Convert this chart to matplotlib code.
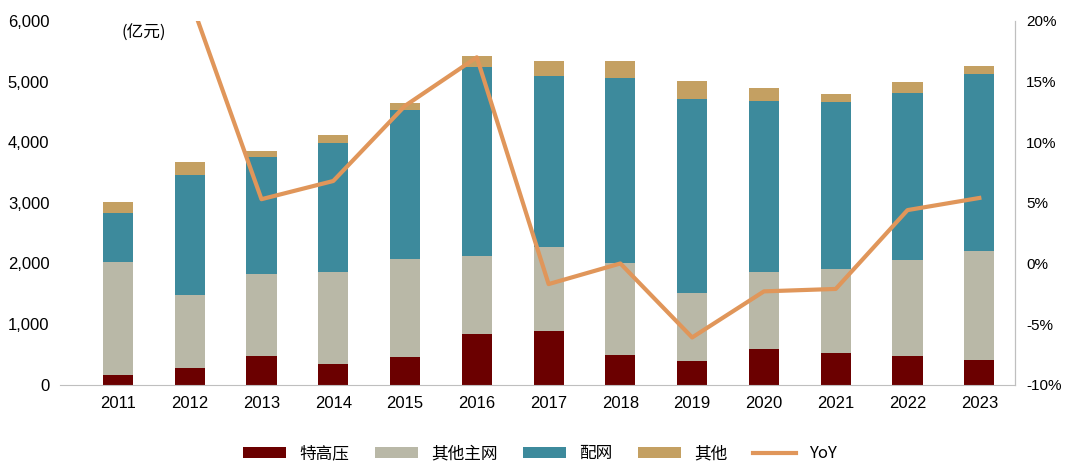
import numpy as np
import matplotlib
matplotlib.use("Agg")
import matplotlib.pyplot as plt

plt.rcParams['font.family'] = ['Noto Sans CJK SC', 'DejaVu Sans']

years = ["2011", "2012", "2013", "2014", "2015", "2016", "2017",
         "2018", "2019", "2020", "2021", "2022", "2023"]
uhv = [165, 280, 478, 346, 461, 840, 890, 494, 395, 593, 527, 478, 412]
main_grid = [1861, 1203, 1351, 1516, 1615, 1285, 1383, 1516, 1121, 1269, 1384, 1581, 1795]
dist_grid = [808, 1977, 1927, 2125, 2454, 3114, 2818, 3048, 3196, 2817, 2751, 2751, 2916]
other = [181, 214, 99, 132, 116, 181, 247, 280, 296, 214, 132, 182, 132]
yoy = [np.nan, 21.9, 5.3, 6.8, 13.0, 17.0, -1.7, 0.0, -6.1, -2.3, -2.1, 4.4, 5.4]

x = np.arange(len(years))
w = 0.42
fig = plt.figure(figsize=(10.8, 4.75), dpi=100)
ax = fig.add_axes([0.056, 0.19, 0.884, 0.766])
b1 = np.array(uhv); b2 = b1 + main_grid; b3 = b2 + dist_grid
ax.bar(x, uhv, w, color="#6B0000", label="特高压")
ax.bar(x, main_grid, w, bottom=b1, color="#B9B8A7", label="其他主网")
ax.bar(x, dist_grid, w, bottom=b2, color="#3D8A9C", label="配网")
ax.bar(x, other, w, bottom=b3, color="#C4A062", label="其他")
ax.set_ylim(0, 6000)
ax.set_xlim(-0.8, 12.5)
ax.set_yticks(range(0, 6001, 1000))
ax.set_yticklabels([f"{v:,}" for v in range(0, 6001, 1000)], fontsize=12, family="Liberation Sans")
ax.set_xticks(x)
ax.set_xticklabels(years, fontsize=12, family="Liberation Sans")
ax.tick_params(length=0, pad=8)
for s in ["top", "left"]:
    ax.spines[s].set_visible(False)
ax.spines["bottom"].set_color("#BFBFBF")
ax.spines["right"].set_color("#BFBFBF")
ax.text(0.05, 5800, "(亿元)", fontsize=12, va="center")

ax2 = ax.twinx()
ax2.plot(x, yoy, color="#E0965A", lw=3, label="YoY")
ax2.set_ylim(-10, 20)
ax2.set_yticks(range(-10, 21, 5))
ax2.set_yticklabels([f"{v}%" for v in range(-10, 21, 5)], fontsize=11, family="Liberation Sans")
ax2.tick_params(length=0, pad=8)
for s in ["top", "left", "bottom"]:
    ax2.spines[s].set_visible(False)
ax2.spines["right"].set_color("#BFBFBF")

h1, l1 = ax.get_legend_handles_labels()
h2, l2 = ax2.get_legend_handles_labels()
fig.legend(h1 + h2, l1 + l2, loc="lower center", ncol=5, frameon=False,
           fontsize=12, bbox_to_anchor=(0.5, -0.005), handlelength=2.6, columnspacing=1.5)
fig.savefig("out.png", dpi=100)
